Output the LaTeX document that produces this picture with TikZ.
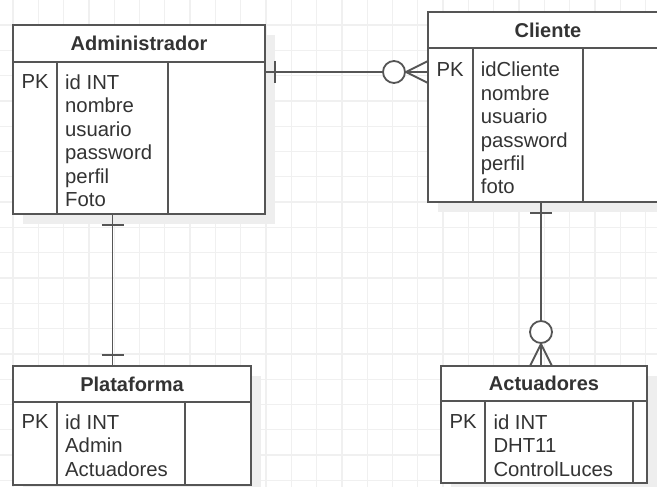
\documentclass[tikz,border=0pt]{standalone}
\usepackage{fontspec}
\setmainfont{Liberation Sans}
\usepackage{tikz}
\usetikzlibrary{positioning, backgrounds}
\definecolor{linegray}{HTML}{555555}
\definecolor{textgray}{HTML}{333333}
\definecolor{gridgray}{HTML}{F0F0F0}
\definecolor{shadowgray}{HTML}{EEEEEE}
\tikzstyle{tabhead}=[draw=linegray, line width=1.8pt, fill=white, rectangle, inner sep=0pt, outer sep=0pt, anchor=north west, font=\fontsize{20}{24}\selectfont\bfseries, text=textgray]
\tikzstyle{tabcol}=[draw=linegray, line width=1.8pt, fill=white, rectangle, inner sep=0pt, outer sep=0pt]
\tikzstyle{tabtext}=[inner sep=0pt, anchor=north west, align=left, font=\fontsize{20.3}{23.4}\selectfont, text=textgray]
\tikzstyle{link}=[draw=linegray, line width=1.8pt]
\tikzstyle{gridline}=[draw=gridgray, line width=1.3pt]

\begin{document}
\begin{tikzpicture}[x=1pt, y=-1pt]
        \useasboundingbox (0,0) rectangle (657,487);
        % Administrador
        \node[tabhead, minimum width=252, minimum height=37] (admin) at (13,25) {Administrador};
        \node[tabcol, minimum width=44, minimum height=152, anchor=north west] (adminpk) at (admin.south west) {};
        \node[tabcol, minimum width=111, minimum height=152, right=0pt of adminpk] (adminattr) {};
        \node[tabcol, minimum width=97, minimum height=152, right=0pt of adminattr] (adminext) {};
        \node[tabtext] (adminkey) at ([shift={(8.5,12.5)}]adminpk.north west) {PK};
        \node[tabtext] (adminfields) at ([shift={(8,12.5)}]adminattr.north west) {id INT\\nombre\\usuario\\password\\perfil\\Foto};
        % Cliente
        \node[tabhead, minimum width=240, minimum height=36] (cli) at (428,12) {Cliente};
        \node[tabcol, minimum width=45, minimum height=154, anchor=north west] (clipk) at (cli.south west) {};
        \node[tabcol, minimum width=110, minimum height=154, right=0pt of clipk] (cliattr) {};
        \node[tabcol, minimum width=85, minimum height=154, right=0pt of cliattr] (cliext) {};
        \node[tabtext] (clikey) at ([shift={(8.5,14)}]clipk.north west) {PK};
        \node[tabtext] (clifields) at ([shift={(7.7,14)}]cliattr.north west) {idCliente\\nombre\\usuario\\password\\perfil\\foto};
        % Plataforma
        \node[tabhead, minimum width=238, minimum height=36] (plat) at (13,366) {Plataforma};
        \node[tabcol, minimum width=44, minimum height=83, anchor=north west] (platpk) at (plat.south west) {};
        \node[tabcol, minimum width=128, minimum height=83, right=0pt of platpk] (platattr) {};
        \node[tabcol, minimum width=66, minimum height=83, right=0pt of platattr] (platext) {};
        \node[tabtext] (platkey) at ([shift={(8.5,12.5)}]platpk.north west) {PK};
        \node[tabtext] (platfields) at ([shift={(8,12.5)}]platattr.north west) {id INT\\Admin\\Actuadores};
        % Actuadores
        \node[tabhead, minimum width=206, minimum height=35] (act) at (441,366) {Actuadores};
        \node[tabcol, minimum width=44, minimum height=82, anchor=north west] (actpk) at (act.south west) {};
        \node[tabcol, minimum width=148, minimum height=82, right=0pt of actpk] (actattr) {};
        \node[tabcol, minimum width=14, minimum height=82, right=0pt of actattr] (actext) {};
        \node[tabtext] (actkey) at ([shift={(8.3,13.5)}]actpk.north west) {PK};
        \node[tabtext] (actfields) at ([shift={(8.3,13.5)}]actattr.north west) {id INT\\DHT11\\ControlLuces};

        % Administrador -- Cliente
        \coordinate (cfoot) at ([shift={(0,24)}]clipk.north west);
        \coordinate (aone) at (adminext.east |- cfoot);
        \draw[link] (aone) -- (cfoot);
        \draw[link] ([shift={(10,-11)}]aone) -- ++(0,22);
        \draw[link, fill=white] ([shift={(-34,0)}]cfoot) circle (11pt);
        \draw[link] ([shift={(0,-11)}]cfoot) -- ([shift={(-22,0)}]cfoot) -- ([shift={(0,11)}]cfoot);
        % Administrador -- Plataforma
        \coordinate (pone) at (adminattr.south |- plat.north);
        \draw[link] (adminattr.south) -- (pone);
        \draw[link] ([shift={(-11,11)}]adminattr.south) -- ++(22,0);
        \draw[link] ([shift={(-11,-11)}]pone) -- ++(22,0);
        % Cliente -- Actuadores
        \coordinate (cone) at ([xshift=113]clipk.south west);
        \coordinate (afoot) at (cone |- act.north);
        \draw[link] (cone) -- (afoot);
        \draw[link] ([shift={(-11,11)}]cone) -- ++(22,0);
        \draw[link, fill=white] ([shift={(0,-34)}]afoot) circle (11pt);
        \draw[link] ([shift={(-11,0)}]afoot) -- ([shift={(0,-22)}]afoot) -- ([shift={(11,0)}]afoot);

        \begin{scope}[on background layer]
            \foreach \k in {0,...,25} \draw[gridline] (13+25.3*\k,0) -- (13+25.3*\k,487);
            \foreach \k in {0,...,18} \draw[gridline] (0,25+25.3*\k) -- (657,25+25.3*\k);
            \fill[shadowgray] ([shift={(10,10)}]admin.north west) rectangle ([shift={(10,10)}]adminext.south east);
            \fill[shadowgray] ([shift={(10,10)}]cli.north west) rectangle ([shift={(10,10)}]cliext.south east);
            \fill[shadowgray] ([shift={(10,10)}]plat.north west) rectangle ([shift={(10,10)}]platext.south east);
            \fill[shadowgray] ([shift={(10,10)}]act.north west) rectangle ([shift={(10,10)}]actext.south east);
        \end{scope}
    \end{tikzpicture}
\end{document}
